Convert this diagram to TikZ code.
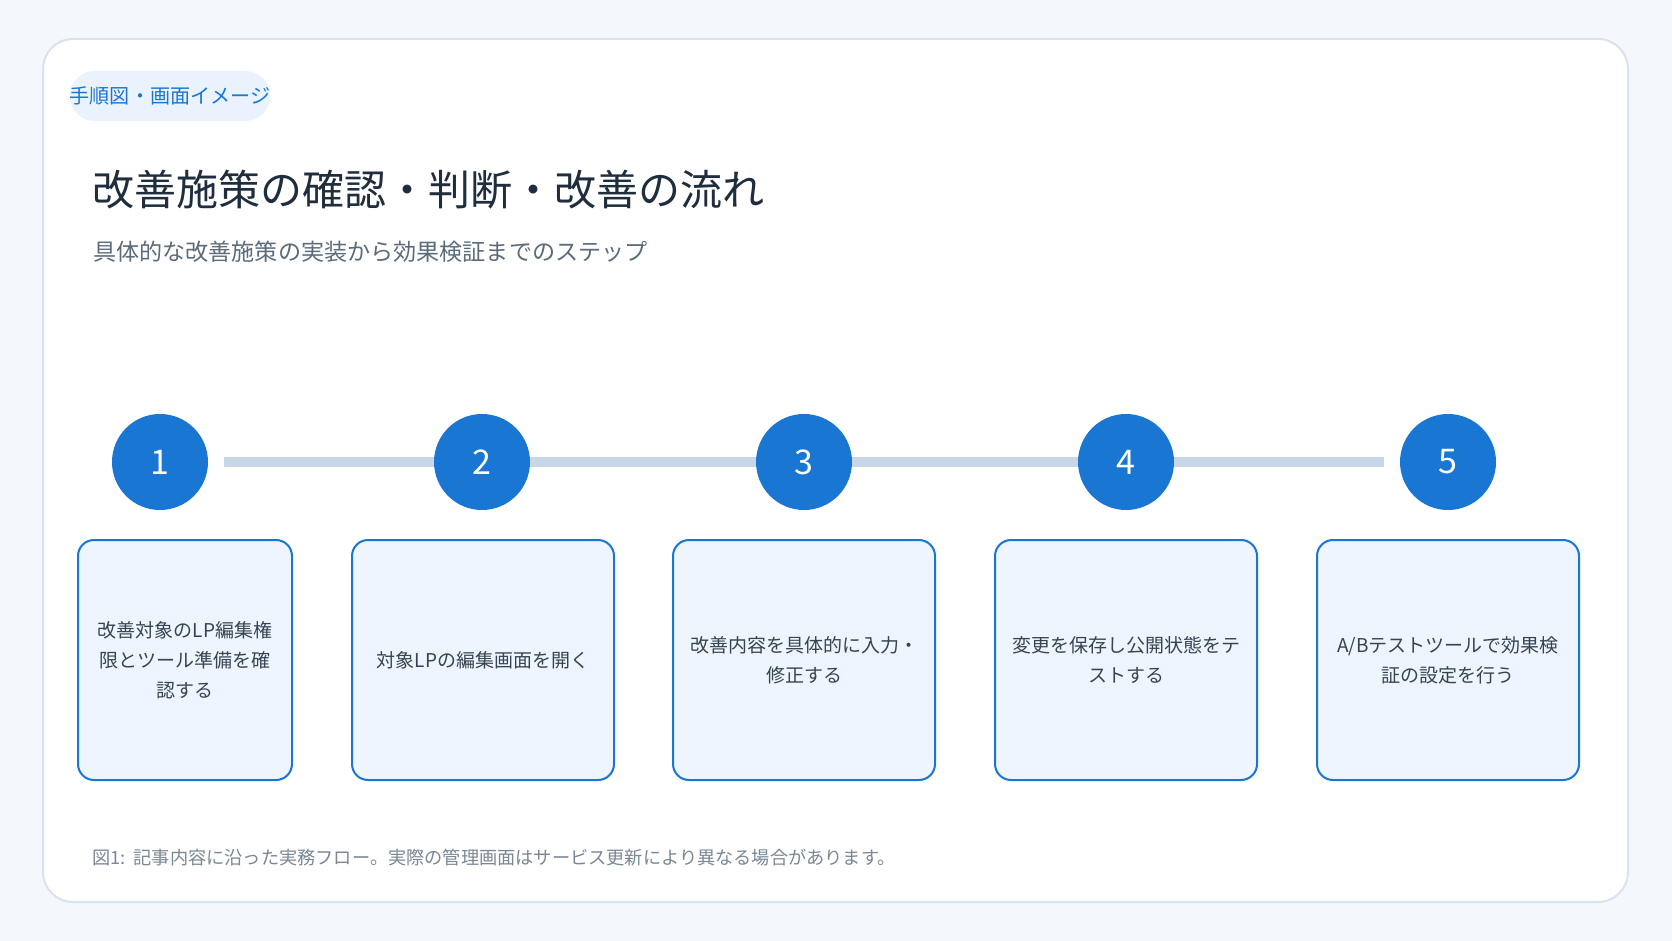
\documentclass[tikz,border=0pt]{standalone}
\usepackage{fontspec}
\setmainfont{Noto Sans CJK JP}
\usetikzlibrary{positioning}
\definecolor{pagebg}{HTML}{F4F8FC}
\definecolor{cardline}{HTML}{D8E3ED}
\definecolor{mainblue}{HTML}{1976D2}
\definecolor{tagbg}{HTML}{EAF3FD}
\definecolor{boxbg}{HTML}{EEF5FE}
\definecolor{railgray}{HTML}{C8D7E5}
\definecolor{titleink}{HTML}{1F2D3D}
\definecolor{subink}{HTML}{5B6B7B}
\definecolor{boxink}{HTML}{364452}
\definecolor{noteink}{HTML}{7A8794}
\pgfdeclarelayer{bg}
\pgfsetlayers{bg,main}
\begin{document}
\begin{tikzpicture}[
    x=1pt, y=-1pt,
    num/.style = {circle, fill=mainblue, minimum size=96pt, inner sep=0pt, text=white, font=\fontsize{34}{40}\selectfont},
    stepbox/.style = {draw=mainblue, line width=2pt, fill=boxbg, rounded corners=16pt, minimum height=240pt, align=center, text=boxink, font=\fontsize{19}{30}\selectfont},
    rail/.style = {draw=railgray, line width=10pt, shorten <=16pt, shorten >=16pt}
  ]
  \begin{pgfonlayer}{bg}
    \fill[pagebg] (0,0) rectangle (1672,941);
    \draw[cardline, line width=2pt, fill=white, rounded corners=30pt] (43,39) rectangle (1628,902);
  \end{pgfonlayer}
  \useasboundingbox (0,0) rectangle (1672,941);
  % header
  \node[fill=tagbg, rounded corners=25pt, minimum height=50pt, minimum width=200pt, inner xsep=0pt, text=mainblue, font=\fontsize{20.1}{24}\selectfont] (tag) at (170,96) {手順図・画面イメージ};
  \node[anchor=west, inner sep=0pt, text=titleink, font=\fontsize{42}{50}\selectfont] (title) at (92,190) {改善施策の確認・判断・改善の流れ};
  \node[anchor=west, inner sep=0pt, text=subink, font=\fontsize{23.1}{28}\selectfont] (subtitle) at (93,252) {具体的な改善施策の実装から効果検証までのステップ};
  % steps
  \node[num] (c1) at (160,462) {1};
  \node[num] (c2) at (482,462) {2};
  \node[num] (c3) at (804,462) {3};
  \node[num] (c4) at (1126,462) {4};
  \node[num] (c5) at (1448,462) {5};
  \begin{pgfonlayer}{bg}
    \draw[rail] (c1) -- (c5);
  \end{pgfonlayer}
  \node[stepbox, minimum width=214pt] (s1) at (185,660) {改善対象のLP編集権\\限とツール準備を確\\認する};
  \node[stepbox, minimum width=262pt] (s2) at (483,660) {対象LPの編集画面を開く};
  \node[stepbox, minimum width=262pt] (s3) at (804,660) {改善内容を具体的に入力・\\修正する};
  \node[stepbox, minimum width=262pt] (s4) at (1126,660) {変更を保存し公開状態をテ\\ストする};
  \node[stepbox, minimum width=262pt] (s5) at (1448,660) {A/Bテストツールで効果検\\証の設定を行う};
  % caption
  \node[anchor=west, inner sep=0pt, text=noteink, font=\fontsize{18.2}{22}\selectfont] (note) at (92,858) {図1:\ \ 記事内容に沿った実務フロー。実際の管理画面はサービス更新により異なる場合があります。};
\end{tikzpicture}
\end{document}
